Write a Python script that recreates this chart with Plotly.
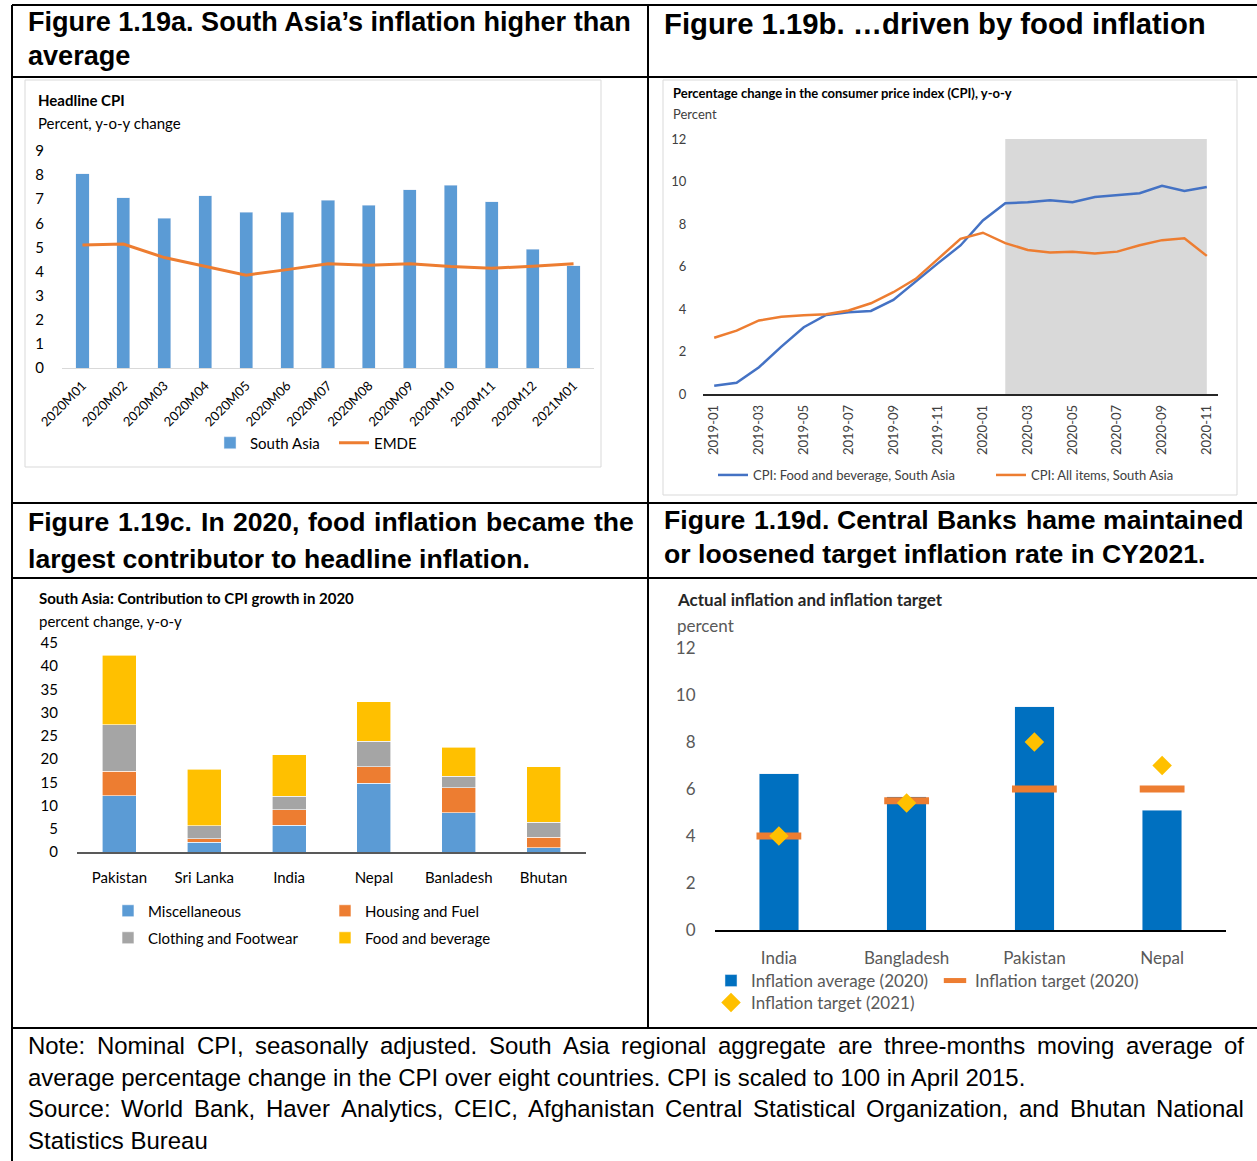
import plotly.graph_objects as go

W, H = 1257, 1161


def px(x):
    return x / W


def py(y):
    return 1 - y / H


# ---------------- data ----------------
months_a = ["2020M01", "2020M02", "2020M03", "2020M04", "2020M05", "2020M06", "2020M07",
            "2020M08", "2020M09", "2020M10", "2020M11", "2020M12", "2021M01"]
south_asia = [8.06, 7.06, 6.22, 7.15, 6.46, 6.46, 6.96, 6.76, 7.39, 7.58, 6.90, 4.92, 4.24]
emde = [5.10, 5.14, 4.58, 4.22, 3.85, 4.08, 4.32, 4.26, 4.32, 4.21, 4.14, 4.22, 4.32]

months_b = ["2019-01", "2019-02", "2019-03", "2019-04", "2019-05", "2019-06", "2019-07",
            "2019-08", "2019-09", "2019-10", "2019-11", "2019-12", "2020-01", "2020-02",
            "2020-03", "2020-04", "2020-05", "2020-06", "2020-07", "2020-08", "2020-09",
            "2020-10", "2020-11"]
food_beverage = [0.39, 0.53, 1.26, 2.23, 3.14, 3.72, 3.85, 3.91, 4.43, 5.31, 6.16, 6.99,
                 8.17, 8.98, 9.02, 9.12, 9.02, 9.27, 9.36, 9.45, 9.80, 9.55, 9.74]
all_items = [2.65, 2.98, 3.46, 3.63, 3.71, 3.75, 3.93, 4.27, 4.79, 5.42, 6.36, 7.30,
             7.59, 7.10, 6.78, 6.66, 6.70, 6.61, 6.70, 7.00, 7.24, 7.33, 6.50]
shaded_period = ["2020-02", "2020-11"]
shade_top = 12
ticks_b = months_b[::2]

countries_c = ["Pakistan", "Sri Lanka", "India", "Nepal", "Banladesh", "Bhutan"]
miscellaneous = [12.1, 2.1, 5.8, 14.8, 8.4, 0.9]
housing_fuel = [5.3, 0.8, 3.3, 3.6, 5.4, 2.3]
clothing_footwear = [10.0, 2.8, 2.9, 5.4, 2.5, 3.2]
food_and_beverage = [15.0, 12.1, 8.9, 8.5, 6.3, 12.0]

countries_d = ["India", "Bangladesh", "Pakistan", "Nepal"]
inflation_avg_2020 = [6.65, 5.68, 9.50, 5.09]
target_2020 = [4.0, 5.5, 6.0, 6.0]
target_2021 = [4.0, 5.4, 8.0, 7.0]

# ---------------- styling ----------------
CF = "Lato, 'Open Sans', sans-serif"
AF = "'Liberation Sans', Arial, sans-serif"
BLUE_A = "#5B9BD5"
ORANGE = "#ED7D31"
BLUE_B = "#4472C4"
GREY = "#A5A5A5"
GOLD = "#FFC000"
BLUE_D = "#0070C0"

fig = go.Figure()

# Panel a
fig.add_trace(go.Bar(x=months_a, y=south_asia, name="South Asia", marker_color=BLUE_A,
                     width=0.32, xaxis="x", yaxis="y", legend="legend", showlegend=True))
fig.add_trace(go.Scatter(x=months_a, y=emde, name="EMDE", mode="lines",
                         line=dict(color=ORANGE, width=3), xaxis="x", yaxis="y", legend="legend2"))

# Panel b
fig.add_trace(go.Scatter(x=months_b, y=food_beverage, name="CPI: Food and beverage, South Asia",
                         mode="lines", line=dict(color=BLUE_B, width=2.5),
                         xaxis="x2", yaxis="y2", legend="legend3"))
fig.add_trace(go.Scatter(x=months_b, y=all_items, name="CPI: All items, South Asia",
                         mode="lines", line=dict(color=ORANGE, width=2.5),
                         xaxis="x2", yaxis="y2", legend="legend4"))

# Panel c
for vals, nm, col, lg in [(miscellaneous, "Miscellaneous", BLUE_A, "legend5"),
                          (housing_fuel, "Housing and Fuel", ORANGE, "legend6"),
                          (clothing_footwear, "Clothing and Footwear", GREY, "legend7"),
                          (food_and_beverage, "Food and beverage", GOLD, "legend8")]:
    fig.add_trace(go.Bar(x=countries_c, y=vals, name=nm,
                         marker=dict(color=col, line=dict(color="white", width=0.6)),
                         width=0.40, xaxis="x3", yaxis="y3", legend=lg))

# Panel d
fig.add_trace(go.Bar(x=countries_d, y=inflation_avg_2020, name="Inflation average (2020)",
                     marker_color=BLUE_D, width=0.31, xaxis="x4", yaxis="y4", legend="legend9"))
fig.add_trace(go.Scatter(x=countries_d, y=target_2020, name="Inflation target (2020)", mode="markers",
                         marker=dict(symbol="line-ew", size=32, color=ORANGE, line=dict(color=ORANGE, width=7)),
                         xaxis="x4", yaxis="y4", legend="legend10"))
fig.add_trace(go.Scatter(x=countries_d, y=target_2021, name="Inflation target (2021)", mode="markers",
                         marker=dict(symbol="diamond", size=15, color=GOLD),
                         xaxis="x4", yaxis="y4", legend="legend11"))

# ---------------- axes ----------------
def hide_tick(len_):
    return dict(ticks="outside", ticklen=len_, tickcolor="rgba(0,0,0,0)")


ax_common = dict(showgrid=False, zeroline=False, fixedrange=True, automargin=False)

layout = dict(
    width=W, height=H, margin=dict(l=0, r=0, t=0, b=0, pad=0, autoexpand=False),
    paper_bgcolor="white", plot_bgcolor="white", showlegend=True,
    barmode="stack", hovermode=False,
    xaxis=dict(domain=[px(62), px(594)], anchor="y", type="category", range=[-0.5, 12.5],
               showline=True, linecolor="#d9d9d9", linewidth=1, tickangle=-45,
               tickfont=dict(size=13, color="#000", family=CF), **hide_tick(4), **ax_common),
    yaxis=dict(domain=[py(368), py(151)], anchor="x", range=[0, 9], dtick=1,
               tickfont=dict(size=15, color="#000", family=CF), **hide_tick(14), **ax_common),
    xaxis2=dict(domain=[px(703), px(1218)], anchor="y2", type="category", range=[-0.5, 22.5],
                tickmode="array", tickvals=ticks_b, ticktext=ticks_b, tickangle=-90,
                showline=True, linecolor="#262626", linewidth=1.5,
                tickfont=dict(size=13, color="#404040", family=CF), **hide_tick(4), **ax_common),
    yaxis2=dict(domain=[py(394), py(139)], anchor="x2", range=[0, 12], dtick=2,
                tickfont=dict(size=13, color="#404040", family=CF), **hide_tick(13), **ax_common),
    xaxis3=dict(domain=[px(77), px(586)], anchor="y3", type="category", range=[-0.5, 5.5],
                showline=True, linecolor="#595959", linewidth=2,
                tickfont=dict(size=15, color="#000", family=CF), **hide_tick(11), **ax_common),
    yaxis3=dict(domain=[py(852), py(643)], anchor="x3", range=[0, 45], dtick=5,
                tickfont=dict(size=15, color="#000", family=CF), **hide_tick(15), **ax_common),
    xaxis4=dict(domain=[px(715), px(1226)], anchor="y4", type="category", range=[-0.5, 3.5],
                showline=True, linecolor="#000", linewidth=1.5,
                tickfont=dict(size=17, color="#595959", family=CF), **hide_tick(12), **ax_common),
    yaxis4=dict(domain=[py(930), py(648)], anchor="x4", range=[0, 12], dtick=2,
                tickfont=dict(size=17, color="#595959", family=CF), **hide_tick(15), **ax_common),
)

# ---------------- legends ----------------
def leg(text_x, yc, size, color="#000"):
    return dict(x=px(text_x - 40), y=py(yc), xanchor="left", yanchor="middle", orientation="h",
                bgcolor="rgba(0,0,0,0)", borderwidth=0, itemwidth=30, traceorder="normal",
                font=dict(size=size, color=color, family=CF))


layout["legend"] = leg(250, 443, 15)
layout["legend2"] = leg(374, 443, 15)
layout["legend3"] = leg(753, 475, 13, "#404040")
layout["legend4"] = leg(1031, 475, 13, "#404040")
layout["legend5"] = leg(148, 911, 15)
layout["legend6"] = leg(365, 911, 15)
layout["legend7"] = leg(148, 938, 15)
layout["legend8"] = leg(365, 938, 15)
layout["legend9"] = leg(751, 981, 17, "#595959")
layout["legend10"] = leg(975, 981, 17, "#595959")
layout["legend11"] = leg(751, 1003, 17, "#595959")

# ---------------- shapes ----------------
shapes = []
shapes.append(dict(type="rect", xref="x2", yref="y2", layer="below",
                   x0=months_b.index(shaded_period[0]), x1=months_b.index(shaded_period[1]),
                   y0=0, y1=shade_top, fillcolor="#d9d9d9", line=dict(width=0)))
for (x0, y0, x1, y1) in [(25, 80, 601, 467), (663, 80, 1237, 495)]:
    shapes.append(dict(type="rect", xref="paper", yref="paper", x0=px(x0), x1=px(x1),
                       y0=py(y1), y1=py(y0), line=dict(color="#d9d9d9", width=1)))


def hline(y, x0=12, x1=1257):
    shapes.append(dict(type="line", xref="paper", yref="paper", x0=px(x0), x1=px(x1),
                       y0=py(y), y1=py(y), line=dict(color="#000", width=2)))


def vline(x, y0, y1):
    shapes.append(dict(type="line", xref="paper", yref="paper", x0=px(x), x1=px(x),
                       y0=py(y0), y1=py(y1), line=dict(color="#000", width=2)))


for yy in [5, 77, 503, 578, 1028]:
    hline(yy)
vline(12, 5, 1161)
vline(648, 5, 1028)
layout["shapes"] = shapes

# ---------------- text ----------------
annotations = []


def label(text, x, y, size, bold=False, color="#000", family=CF):
    annotations.append(dict(text=f"<b>{text}</b>" if bold else text, x=px(x), y=py(y),
                            xref="paper", yref="paper", xanchor="left", yanchor="middle",
                            showarrow=False, borderpad=0,
                            font=dict(size=size, color=color, family=family)))


REG = {chr(c): 556 for c in range(32, 127)}
BOLD = dict(REG)
for s, w in zip("ABCDEFGHIJKLMNOPQRSTUVWXYZ",
                [667, 667, 722, 722, 667, 611, 778, 722, 278, 500, 667, 556, 833, 722, 778, 667, 778, 722, 667,
                 611, 722, 667, 944, 667, 667, 611]):
    REG[s] = w
for s, w in zip("abcdefghijklmnopqrstuvwxyz",
                [556, 556, 500, 556, 556, 278, 556, 556, 222, 222, 500, 222, 833, 556, 556, 556, 556, 333, 500,
                 278, 556, 500, 722, 500, 500, 500]):
    REG[s] = w
for s, w in zip("ABCDEFGHIJKLMNOPQRSTUVWXYZ",
                [722, 722, 722, 722, 667, 611, 778, 722, 278, 556, 722, 611, 833, 722, 778, 667, 778, 722, 667,
                 611, 722, 667, 944, 667, 667, 611]):
    BOLD[s] = w
for s, w in zip("abcdefghijklmnopqrstuvwxyz",
                [556, 611, 556, 611, 556, 333, 611, 611, 278, 278, 556, 278, 889, 611, 611, 611, 611, 389, 556,
                 333, 611, 556, 778, 556, 556, 500]):
    BOLD[s] = w
REG.update({" ": 278, ",": 278, ".": 278, ":": 278, ";": 278, "-": 333, "(": 333, ")": 333, "’": 222, "…": 1000})
BOLD.update({" ": 278, ",": 278, ".": 278, ":": 333, ";": 333, "-": 333, "(": 333, ")": 333, "’": 278, "…": 1000})


def em(text, bold=False):
    t = BOLD if bold else REG
    return sum(t.get(c, 556) for c in text) / 1000


def fit(text, width, bold=False):
    return width / em(text, bold)


def line(text, x0, y, size, bold=False, x1=None):
    if x1 is None:
        label(text, x0, y, size, bold, family=AF)
        return
    words = text.split(" ")
    widths = [em(w, bold) * size for w in words]
    gap = (x1 - x0 - sum(widths)) / (len(words) - 1)
    x = x0
    for w, wd in zip(words, widths):
        label(w, x, y, size, bold, family=AF)
        x += wd + gap


a1 = "Figure 1.19a. South Asia’s inflation higher than"
sa = fit(a1, 605, True)
line(a1, 27, 22, sa, True)
line("average", 27, 56, sa, True)

b1 = "Figure 1.19b. …driven by food inflation"
line(b1, 663, 23, fit(b1, 542, True), True)

c2 = "largest contributor to headline inflation."
sc = fit(c2, 502, True)
line("Figure 1.19c. In 2020, food inflation became the", 27, 522, sc, True, x1=633)
line(c2, 27, 559, sc, True)

d2 = "or loosened target inflation rate in CY2021."
sd = fit(d2, 542, True)
line("Figure 1.19d. Central Banks hame maintained", 663, 520, sd, True, x1=1243)
line(d2, 663, 554, sd, True)

n2 = "average percentage change in the CPI over eight countries. CPI is scaled to 100 in April 2015."
sn = fit(n2, 999)
line("Note: Nominal CPI, seasonally adjusted. South Asia regional aggregate are three-months moving average of",
     27, 1045, sn, x1=1243)
line(n2, 27, 1077, sn)
line("Source: World Bank, Haver Analytics, CEIC, Afghanistan Central Statistical Organization, and Bhutan National",
     27, 1108, sn, x1=1243)
line("Statistics Bureau", 27, 1140, sn)

label("Headline CPI", 37, 100, 15, True)
label("Percent, y-o-y change", 37, 123, 15)
label("Percentage change in the consumer price index (CPI), y-o-y", 672, 93, 13, True)
label("Percent", 672, 114, 13, color="#404040")
label("South Asia: Contribution to CPI growth in 2020", 38, 598, 15, True)
label("percent change, y-o-y", 38, 621, 15)
label("Actual inflation and inflation target", 676, 599, 17, True, color="#262626")
label("percent", 676, 625, 17, color="#595959")

layout["annotations"] = annotations
fig.update_layout(**layout)
fig.write_html("out.html", config={"displayModeBar": False},
               post_script="document.body.style.margin='0px';document.body.style.overflow='hidden';")
